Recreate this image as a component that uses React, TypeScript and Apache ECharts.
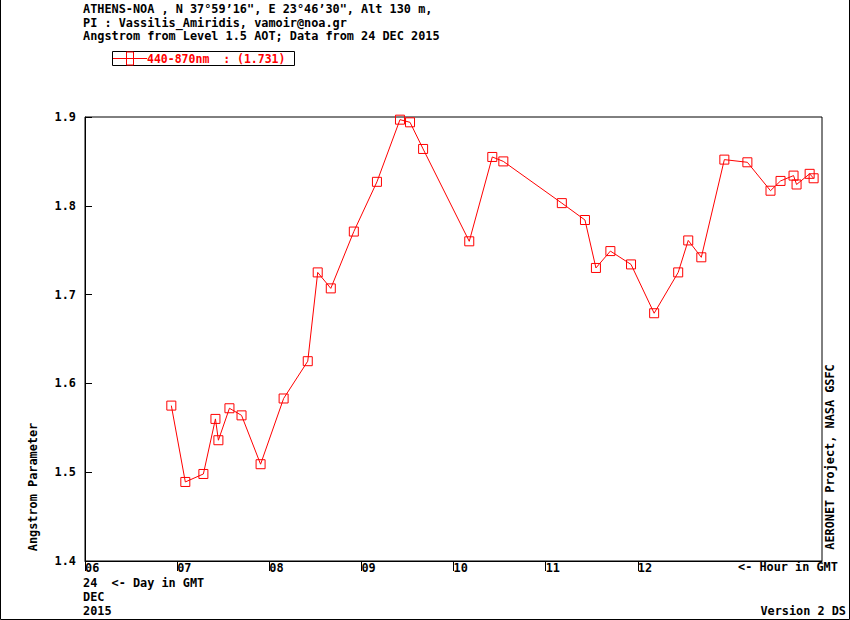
import React, { useEffect, useRef } from "react";
import * as echarts from "echarts";

const hoursGMT = [
  6.937, 7.089, 7.285, 7.416, 7.448, 7.568, 7.699, 7.906, 8.156, 8.418, 8.526, 8.668,
  8.918, 9.169, 9.419, 9.528, 9.670, 10.171, 10.421, 10.541, 11.176, 11.427, 11.546,
  11.703, 11.927, 12.178, 12.439, 12.548, 12.690, 12.940, 13.190, 13.441, 13.550,
  13.691, 13.724, 13.866, 13.909,
];
const angstrom = [
  1.575, 1.489, 1.498, 1.560, 1.536, 1.572, 1.564, 1.509, 1.583, 1.625, 1.725, 1.707,
  1.771, 1.827, 1.897, 1.894, 1.864, 1.760, 1.855, 1.850, 1.803, 1.784, 1.730,
  1.749, 1.734, 1.679, 1.725, 1.761, 1.742, 1.852, 1.849, 1.817, 1.828,
  1.834, 1.824, 1.836, 1.831,
];
const hourTicks = [6, 7, 8, 9, 10, 11, 12];
const headerLines = [
  "ATHENS-NOA , N 37°59’16\", E 23°46’30\", Alt 130 m,",
  "PI : Vassilis_Amiridis, vamoir@noa.gr",
  "Angstrom from Level 1.5 AOT; Data from 24 DEC 2015",
];
const legendText = "440-870nm  : (1.731)";
const dateLines = ["24  <- Day in GMT", "DEC", "2015"];

const FONT = "'DejaVu Sans Mono', 'Liberation Mono', monospace";
const RED = "#ff0000";

export default function App() {
  const ref = useRef<HTMLDivElement>(null);
  useEffect(() => {
    document.body.style.margin = "0";
    const chart = echarts.init(ref.current!, null, { renderer: "svg" });
    const txt = (text: string, x: number, y: number, extra: any = {}, size = 11.85) => ({
      type: "text",
      x,
      y,
      style: {
        text,
        fill: "#000",
        font: `bold ${size}px ${FONT}`,
        verticalAlign: "top",
        align: "left",
        ...extra,
      },
    });
    const graphics: any[] = [
      {
        type: "polyline",
        shape: { points: [[0.5, 0], [0.5, 619.5], [849.5, 619.5], [849.5, 0]] },
        style: { stroke: "#000", lineWidth: 1, fill: "none" },
      },
      ...headerLines.map((t, i) => txt(t, 83, 3 + i * 13.5)),
      {
        type: "rect",
        shape: { x: 112.5, y: 51.5, width: 182, height: 14 },
        style: { stroke: "#000", lineWidth: 1, fill: "#fff" },
      },
      {
        type: "line",
        shape: { x1: 113, y1: 58.5, x2: 147, y2: 58.5 },
        style: { stroke: RED, lineWidth: 1 },
      },
      {
        type: "rect",
        shape: { x: 126.5, y: 52, width: 7, height: 13 },
        style: { stroke: RED, lineWidth: 1, fill: "none" },
      },
      txt(legendText, 147, 53, { fill: RED }, 11.5),
      ...dateLines.map((t, i) => txt(t, 83, 577 + i * 14)),
      txt("<- Hour in GMT", 738, 561),
      txt("Version 2 DS", 846, 605, { align: "right" }),
      {
        type: "text",
        x: 33,
        y: 487,
        rotation: Math.PI / 2,
        style: {
          text: "Angstrom Parameter",
          fill: "#000",
          font: `bold 11.85px ${FONT}`,
          align: "center",
          verticalAlign: "middle",
        },
      },
      {
        type: "text",
        x: 829.5,
        y: 457,
        rotation: Math.PI / 2,
        style: {
          text: "AERONET Project, NASA GSFC",
          fill: "#000",
          font: `bold 11.85px ${FONT}`,
          align: "center",
          verticalAlign: "middle",
        },
      },
    ];
    chart.setOption({
      animation: false,
      backgroundColor: "#fff",
      grid: {
        left: 85,
        top: 117,
        width: 737,
        height: 444,
        show: true,
        borderColor: "#000",
        borderWidth: 1,
        backgroundColor: "#fff",
      },
      xAxis: {
        type: "value",
        min: 6,
        max: 14,
        interval: 1,
        splitLine: { show: false },
        axisLine: { show: true, lineStyle: { color: "#000", width: 1 } },
        axisTick: {
          show: true,
          inside: false,
          length: 10,
          customValues: hourTicks,
          lineStyle: { color: "#000", width: 1 },
        },
        axisLabel: {
          customValues: hourTicks,
          formatter: (v: number) => String(v).padStart(2, "0"),
          align: "left",
          margin: 1,
          color: "#000",
          fontFamily: FONT,
          fontWeight: "bold",
          fontSize: 11.85,
        },
      },
      yAxis: {
        type: "value",
        min: 1.4,
        max: 1.9,
        interval: 0.1,
        splitLine: { show: false },
        axisLine: { show: true, lineStyle: { color: "#000", width: 1 } },
        axisTick: { show: true, inside: true, length: 7, lineStyle: { color: "#000", width: 1 } },
        axisLabel: {
          formatter: (v: number) => v.toFixed(1),
          margin: 9,
          color: "#000",
          fontFamily: FONT,
          fontWeight: "bold",
          fontSize: 11.85,
        },
      },
      series: [
        {
          type: "line",
          data: hoursGMT.map((h, i) => [h, angstrom[i]]),
          symbol: "rect",
          symbolSize: 9,
          showAllSymbol: true,
          lineStyle: { color: RED, width: 1 },
          itemStyle: { color: "rgba(0,0,0,0)", borderColor: RED, borderWidth: 1 },
          emphasis: { disabled: true },
          z: 3,
        },
      ],
      graphic: graphics,
    });
    return () => chart.dispose();
  }, []);
  return <div ref={ref} style={{ width: 850, height: 620 }} />;
}
